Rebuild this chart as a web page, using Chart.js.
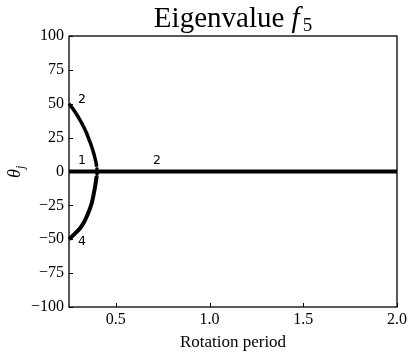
<!DOCTYPE html>
<html>
<head>
<meta charset="utf-8">
<script src="https://cdn.jsdelivr.net/npm/chart.js@4/dist/chart.umd.min.js"></script>
<style>
  html, body { margin: 0; padding: 0; background: #fff; }
  #wrap { width: 416px; height: 357px; }
</style>
</head>
<body>
<div id="wrap"><canvas id="grafico" width="416" height="357"></canvas></div>
<script>
// datos
const ramaSuperiorX = [0.25, 0.28, 0.309, 0.33, 0.344, 0.36, 0.371, 0.382, 0.389, 0.394, 0.398];
const ramaSuperiorY = [50, 44.5, 38, 32.5, 28.2, 22.5, 18.3, 13.5, 9.7, 6.5, 3.5];
const ramaInferiorX = [0.25, 0.28, 0.309, 0.33, 0.344, 0.36, 0.371, 0.382, 0.389, 0.394, 0.398];
const ramaInferiorY = [-50, -46, -41.9, -37.5, -33.4, -28, -23.5, -16.5, -11.2, -7, -3.3];
const puntosX = [0.399, 0.3995, 0.3995, 0.3995];
const puntosY = [2.2, 1.2, -1.2, -2.2];
const lineaCeroX = [0.25, 2.0];
const lineaCeroY = [0, 0];
const ticksX = [0.5, 1.0, 1.5, 2.0];
const ticksY = [-100, -75, -50, -25, 0, 25, 50, 75, 100];
const etiquetas = [
  { x: 0.319, y: 53, texto: '2' },
  { x: 0.319, y: 8, texto: '1' },
  { x: 0.72, y: 8, texto: '2' },
  { x: 0.319, y: -52, texto: '4' }
];

const fuenteSerif = '"Liberation Serif", "DejaVu Serif", serif';

function pares(xs, ys) {
  return xs.map((x, i) => ({ x: x, y: ys[i] }));
}

const pluginExtras = {
  id: 'extras',
  afterDraw(chart) {
    const ctx = chart.ctx;
    const a = chart.chartArea;
    const sx = chart.scales.x, sy = chart.scales.y;
    ctx.save();
    // marco
    ctx.strokeStyle = '#000';
    ctx.lineWidth = 1.3;
    ctx.strokeRect(a.left, a.top, a.right - a.left, a.bottom - a.top);
    // marcas hacia adentro
    ctx.lineWidth = 1;
    ticksX.forEach(v => {
      const px = Math.round(sx.getPixelForValue(v)) + 0.5;
      ctx.beginPath(); ctx.moveTo(px, a.bottom); ctx.lineTo(px, a.bottom - 4); ctx.stroke();
    });
    ticksY.forEach(v => {
      const py = Math.round(sy.getPixelForValue(v)) + 0.5;
      ctx.beginPath(); ctx.moveTo(a.left, py); ctx.lineTo(a.left + 4, py); ctx.stroke();
    });
    // etiquetas de multiplicidad
    ctx.fillStyle = '#000';
    ctx.font = '12.5px "DejaVu Sans", sans-serif';
    ctx.textAlign = 'center';
    ctx.textBaseline = 'middle';
    etiquetas.forEach(e => {
      ctx.fillText(e.texto, sx.getPixelForValue(e.x), sy.getPixelForValue(e.y));
    });
    // titulo
    ctx.textBaseline = 'alphabetic';
    ctx.textAlign = 'left';
    const t1 = 'Eigenvalue ';
    ctx.font = '29px ' + fuenteSerif;
    const w1 = ctx.measureText(t1).width;
    ctx.font = 'italic 29px ' + fuenteSerif;
    const w2 = ctx.measureText('f').width;
    ctx.font = '19px ' + fuenteSerif;
    const w3 = ctx.measureText('5').width;
    let x0 = (a.left + a.right) / 2 - (w1 + w2 + 3 + w3) / 2;
    ctx.font = '29px ' + fuenteSerif;
    ctx.fillText(t1, x0, 27);
    ctx.font = 'italic 29px ' + fuenteSerif;
    ctx.fillText('f', x0 + w1, 27);
    ctx.font = '19px ' + fuenteSerif;
    ctx.fillText('5', x0 + w1 + w2 + 3, 31);
    // titulo eje y
    ctx.translate(20, (a.top + a.bottom) / 2);
    ctx.rotate(-Math.PI / 2);
    ctx.textAlign = 'left';
    ctx.font = 'italic 18px ' + fuenteSerif;
    const wt = ctx.measureText('\u03b8').width;
    ctx.fillText('\u03b8', -wt / 2 - 2, 0);
    ctx.font = 'italic 12px ' + fuenteSerif;
    ctx.fillText('j', wt / 2 - 2, 4);
    ctx.restore();
  }
};

function crearGrafico() {
  const ctx = document.getElementById('grafico').getContext('2d');
  new Chart(ctx, {
    type: 'scatter',
    data: {
      datasets: [
        { data: pares(lineaCeroX, lineaCeroY), showLine: true, borderColor: '#000', borderWidth: 4, pointRadius: 0, borderCapStyle: 'butt' },
        { data: pares(ramaSuperiorX, ramaSuperiorY), showLine: true, borderColor: '#000', borderWidth: 3.5, pointRadius: 0, cubicInterpolationMode: 'monotone' },
        { data: pares(ramaInferiorX, ramaInferiorY), showLine: true, borderColor: '#000', borderWidth: 4, pointRadius: 0, cubicInterpolationMode: 'monotone' },
        { data: pares(puntosX, puntosY), showLine: false, backgroundColor: '#000', borderWidth: 0, pointRadius: 1.6 }
      ]
    },
    options: {
      responsive: false,
      animation: false,
      clip: false,
      layout: { padding: { top: 36, right: 19, left: 0, bottom: 0 } },
      plugins: { legend: { display: false }, tooltip: { enabled: false }, title: { display: false } },
      scales: {
        x: {
          type: 'linear', min: 0.25, max: 2.0,
          afterBuildTicks: s => { s.ticks = ticksX.map(v => ({ value: v })); },
          afterFit: s => { s.height = 50; },
          grid: { display: false, drawTicks: false },
          border: { display: false },
          ticks: {
            color: '#000', padding: 3, maxRotation: 0,
            font: { family: fuenteSerif, size: 16 },
            callback: v => v.toFixed(1)
          },
          title: {
            display: true, text: 'Rotation period', color: '#000',
            font: { family: fuenteSerif, size: 17 }, padding: { top: 0 }
          }
        },
        y: {
          type: 'linear', min: -100, max: 100,
          afterBuildTicks: s => { s.ticks = ticksY.map(v => ({ value: v })); },
          afterFit: s => { s.width = 69; },
          grid: { display: false, drawTicks: false },
          border: { display: false },
          ticks: {
            color: '#000', padding: 5,
            font: { family: fuenteSerif, size: 16 },
            callback: v => (v < 0 ? '\u2212' + Math.abs(v) : String(v))
          }
        }
      }
    },
    plugins: [pluginExtras]
  });
}

document.addEventListener('DOMContentLoaded', function() {
  crearGrafico();
});
</script>
</body>
</html>
